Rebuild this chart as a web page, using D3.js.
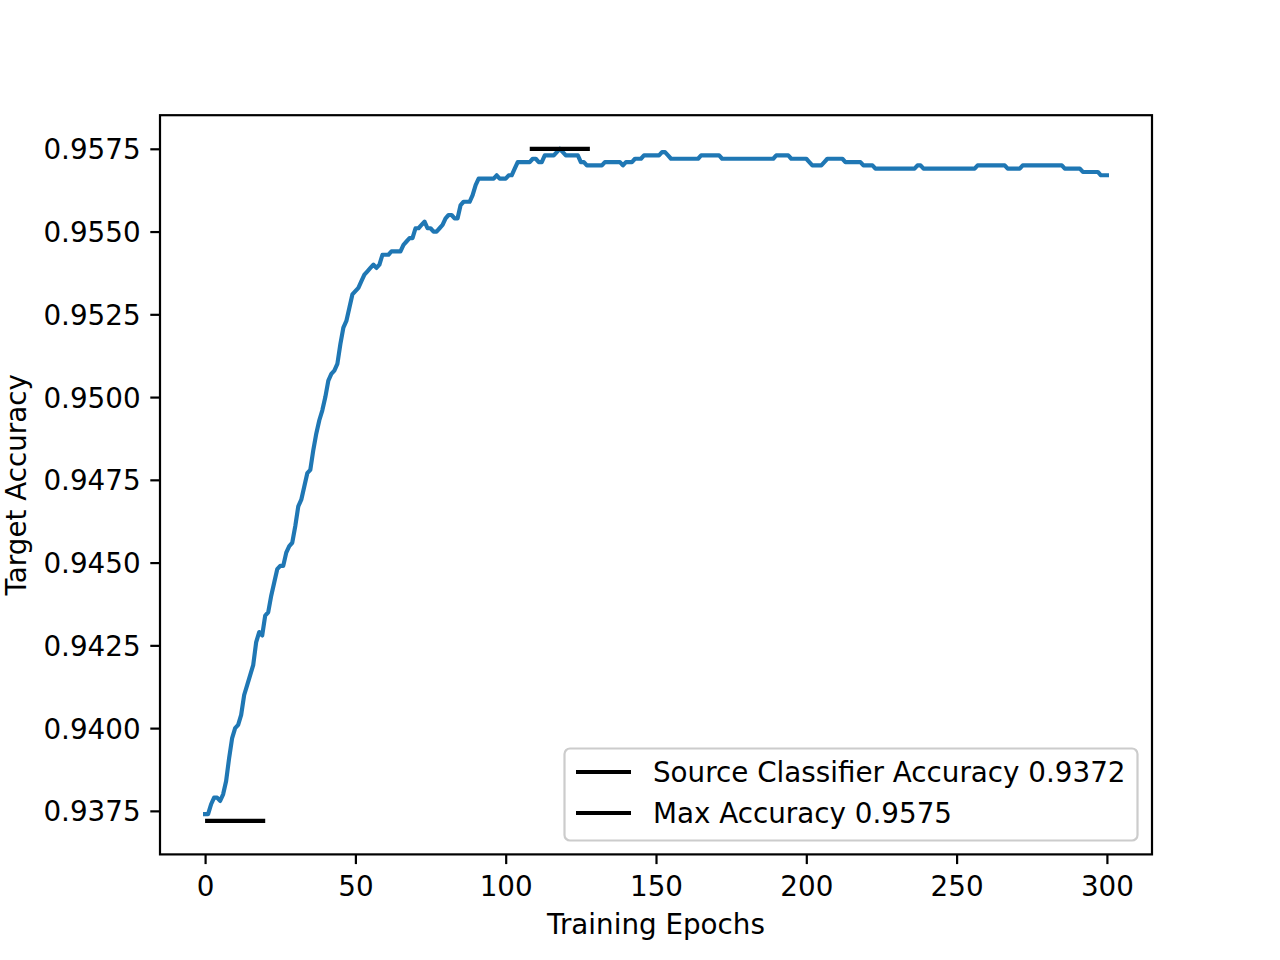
<!DOCTYPE html>
<html>
<head>
<meta charset="utf-8">
<script src="https://cdn.jsdelivr.net/npm/d3@7"></script>
<style>
html,body{margin:0;padding:0;background:#fff;}
text{font-family:"DejaVu Sans",sans-serif;}
</style>
</head>
<body>
<svg id="chart" width="1280" height="960"></svg>
<script>
// Target accuracy per training epoch (0..300)
const accuracy = [
0.9374,0.9374,0.9377,0.9379,0.9379,0.9378,0.9380,0.9384,0.9391,0.9397,
0.9400,0.9401,0.9404,0.9410,0.9413,0.9416,0.9419,0.9426,0.9429,0.9428,
0.9434,0.9435,0.9440,0.9444,0.9448,0.9449,0.9449,0.9453,0.9455,0.9456,
0.9461,0.9467,0.9469,0.9473,0.9477,0.9478,0.9484,0.9489,0.9493,0.9496,
0.9500,0.9505,0.9507,0.9508,0.9510,0.9516,0.9521,0.9523,0.9527,0.9531,
0.9532,0.9533,0.9535,0.9537,0.9538,0.9539,0.9540,0.9539,0.9540,0.9543,
0.9543,0.9543,0.9544,0.9544,0.9544,0.9544,0.9546,0.9547,0.9548,0.9548,
0.9551,0.9551,0.9552,0.9553,0.9551,0.9551,0.9550,0.9550,0.9551,0.9552,
0.9554,0.9555,0.9555,0.9554,0.9554,0.9558,0.9559,0.9559,0.9559,0.9561,
0.9564,0.9566,0.9566,0.9566,0.9566,0.9566,0.9566,0.9567,0.9566,0.9566,
0.9566,0.9567,0.9567,0.9569,0.9571,0.9571,0.9571,0.9571,0.9571,0.9572,
0.9572,0.9571,0.9571,0.9573,0.9573,0.9573,0.9573,0.9574,0.9575,0.9574,
0.9573,0.9573,0.9573,0.9573,0.9573,0.9571,0.9571,0.9570,0.9570,0.9570,
0.9570,0.9570,0.9570,0.9571,0.9571,0.9571,0.9571,0.9571,0.9571,0.9570,
0.9571,0.9571,0.9571,0.9572,0.9572,0.9572,0.9573,0.9573,0.9573,0.9573,
0.9573,0.9573,0.9574,0.9574,0.9573,0.9572,0.9572,0.9572,0.9572,0.9572,
0.9572,0.9572,0.9572,0.9572,0.9572,0.9573,0.9573,0.9573,0.9573,0.9573,
0.9573,0.9573,0.9572,0.9572,0.9572,0.9572,0.9572,0.9572,0.9572,0.9572,
0.9572,0.9572,0.9572,0.9572,0.9572,0.9572,0.9572,0.9572,0.9572,0.9572,
0.9573,0.9573,0.9573,0.9573,0.9573,0.9572,0.9572,0.9572,0.9572,0.9572,
0.9572,0.9571,0.9570,0.9570,0.9570,0.9570,0.9571,0.9572,0.9572,0.9572,
0.9572,0.9572,0.9572,0.9571,0.9571,0.9571,0.9571,0.9571,0.9571,0.9570,
0.9570,0.9570,0.9570,0.9569,0.9569,0.9569,0.9569,0.9569,0.9569,0.9569,
0.9569,0.9569,0.9569,0.9569,0.9569,0.9569,0.9569,0.9570,0.9570,0.9569,
0.9569,0.9569,0.9569,0.9569,0.9569,0.9569,0.9569,0.9569,0.9569,0.9569,
0.9569,0.9569,0.9569,0.9569,0.9569,0.9569,0.9569,0.9570,0.9570,0.9570,
0.9570,0.9570,0.9570,0.9570,0.9570,0.9570,0.9570,0.9569,0.9569,0.9569,
0.9569,0.9569,0.9570,0.9570,0.9570,0.9570,0.9570,0.9570,0.9570,0.9570,
0.9570,0.9570,0.9570,0.9570,0.9570,0.9570,0.9569,0.9569,0.9569,0.9569,
0.9569,0.9569,0.9568,0.9568,0.9568,0.9568,0.9568,0.9568,0.9567,0.9567,
0.9567
];
const sourceAcc = 0.9372;
const sourceSpan = [0, 20];
const maxAcc = 0.9575;
const maxSpan = [108, 128];
const xTicks = [0, 50, 100, 150, 200, 250, 300];
const yTicks = [0.9375, 0.9400, 0.9425, 0.9450, 0.9475, 0.9500, 0.9525, 0.9550, 0.9575];
const legendLabels = ["Source Classifier Accuracy 0.9372", "Max Accuracy 0.9575"];
const xLabel = "Training Epochs";
const yLabel = "Target Accuracy";

const svg = d3.select("#chart");
const L = 160, R = 1152, T = 115.2, B = 854.4;
const FS = 27.78;
const x = d3.scaleLinear().domain([-15, 315]).range([L, R]);
const y = d3.scaleLinear().domain([0.936185, 0.958515]).range([B, T]);

const data = accuracy.map((v, i) => [i, v]);
const line = d3.line().x(d => x(d[0])).y(d => y(d[1]));

const plot = svg.append("g");
plot.append("path").datum(data).attr("d", line)
  .attr("fill", "none").attr("stroke", "#1f77b4").attr("stroke-width", 4.17)
  .attr("stroke-linejoin", "round").attr("stroke-linecap", "square");

plot.append("line").attr("x1", x(sourceSpan[0])).attr("x2", x(sourceSpan[1]))
  .attr("y1", y(sourceAcc)).attr("y2", y(sourceAcc))
  .attr("stroke", "#000").attr("stroke-width", 4.17).attr("stroke-linecap", "butt");
plot.append("line").attr("x1", x(maxSpan[0])).attr("x2", x(maxSpan[1]))
  .attr("y1", y(maxAcc)).attr("y2", y(maxAcc))
  .attr("stroke", "#000").attr("stroke-width", 4.17).attr("stroke-linecap", "butt");

// axes
const xAxis = d3.axisBottom(x).tickValues(xTicks).tickSize(9.7).tickPadding(9.7).tickFormat(d3.format("d"));
const yAxis = d3.axisLeft(y).tickValues(yTicks).tickSize(9.7).tickPadding(9.7).tickFormat(d3.format(".4f"));
const gx = svg.append("g").attr("transform", `translate(0,${B})`).call(xAxis);
const gy = svg.append("g").attr("transform", `translate(${L},0)`).call(yAxis);
[gx, gy].forEach(g => {
  g.select(".domain").remove();
  g.selectAll(".tick line").attr("stroke", "#000").attr("stroke-width", 2.2);
  g.selectAll(".tick text").attr("fill", "#000").style("font-size", FS + "px")
    .style("font-family", "DejaVu Sans");
});
gx.selectAll(".tick text").attr("dy", null).attr("y", 41.5);
gy.selectAll(".tick text").attr("dy", "0.36em");

// spines
svg.append("rect").attr("x", L).attr("y", T).attr("width", R - L).attr("height", B - T)
  .attr("fill", "none").attr("stroke", "#000").attr("stroke-width", 2.2);

// axis labels
svg.append("text").attr("x", (L + R) / 2).attr("y", 934).attr("text-anchor", "middle")
  .style("font-size", FS + "px").text(xLabel);
svg.append("text").attr("transform", `translate(26,${(T + B) / 2}) rotate(-90)`)
  .attr("text-anchor", "middle").style("font-size", FS + "px").text(yLabel);

// legend
const lg = svg.append("g");
lg.append("rect").attr("x", 564.5).attr("y", 748.5).attr("width", 573).attr("height", 92)
  .attr("rx", 5.5).attr("fill", "#fff").attr("fill-opacity", 0.8)
  .attr("stroke", "#cccccc").attr("stroke-width", 2.2);
legendLabels.forEach((t, i) => {
  const cy = 772 + i * 41;
  lg.append("line").attr("x1", 576).attr("x2", 631).attr("y1", cy).attr("y2", cy)
    .attr("stroke", "#000").attr("stroke-width", 4.17);
  lg.append("text").attr("x", 653).attr("y", cy + 10).style("font-size", FS + "px").text(t);
});
</script>
</body>
</html>
